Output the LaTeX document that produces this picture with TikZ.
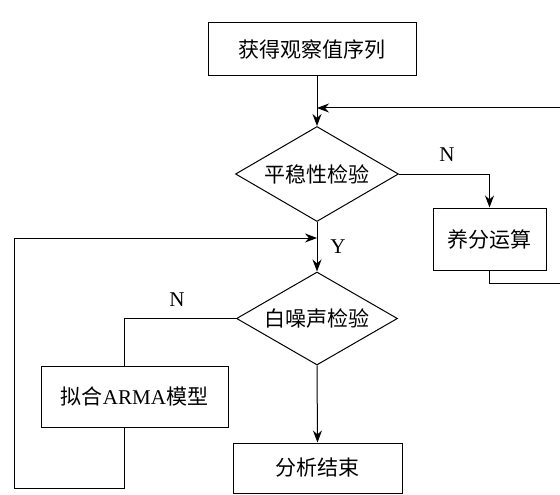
\documentclass[tikz,border=0pt]{standalone}
\usepackage{fontspec}
\setmainfont{Liberation Serif}
\newfontfamily\cjk{Noto Sans CJK SC}
\usetikzlibrary{arrows.meta,shapes.geometric}

\begin{document}
\begin{tikzpicture}[x=1pt,y=1pt,
  box/.style={draw, line width=1pt, inner sep=0pt, font=\fontsize{21}{24}\selectfont\cjk},
  test/.style={draw, diamond, aspect=1.7, line width=1pt, inner sep=0pt, font=\fontsize{21}{24}\selectfont\cjk},
  link/.style={line width=1pt},
  arr/.style={line width=1pt, -{Stealth[length=12pt,width=9pt]}},
  yn/.style={font=\fontsize{21}{24}\selectfont}]
\useasboundingbox (0,-495) rectangle (560,0);
% boxes and tests
\node[box, minimum width=208, minimum height=53] (obs) at (312,-49.5) {获得观察值序列};
\node[test, minimum width=163, minimum height=95] (stat) at (317,-174) {平稳性检验};
\node[box, minimum width=113, minimum height=62] (diff) at (489.5,-239) {养分运算};
\node[test, minimum width=161, minimum height=93] (noise) at (317,-318.5) {白噪声检验};
\node[box, minimum width=187, minimum height=61] (arma) at (134.5,-396.5) {拟合{\rmfamily ARMA}模型};
\node[box, minimum width=169, minimum height=50] (done) at (317.5,-468) {分析结束};
% loop corners
\coordinate (r1) at (560,-283);
\coordinate (r2) at (560,-108);
\coordinate (lb) at (124,-488);
\coordinate (lt) at (14,-238);
% connectors
\draw[arr] (obs.south -| stat.north) -- (stat.north);
\draw[arr] (stat.east) -| (diff.north);
\node[yn] (n1) at (447,-155) {N};
\draw[link] (diff.south) |- (r1);
\draw[arr] (r2) -- (r2 -| stat.north);
\draw[arr] (stat.south) -- (noise.north);
\node[yn] (y1) at (338,-247) {Y};
\draw[link] (noise.west) -| (arma.north -| lb);
\node[yn] (n2) at (177,-300) {N};
\draw[arr] (arma.south -| lb) -- (lb) -| (lt) -- (lt -| stat.south);
\draw[arr] (noise.south) -- (done.north);
\end{tikzpicture}
\end{document}
